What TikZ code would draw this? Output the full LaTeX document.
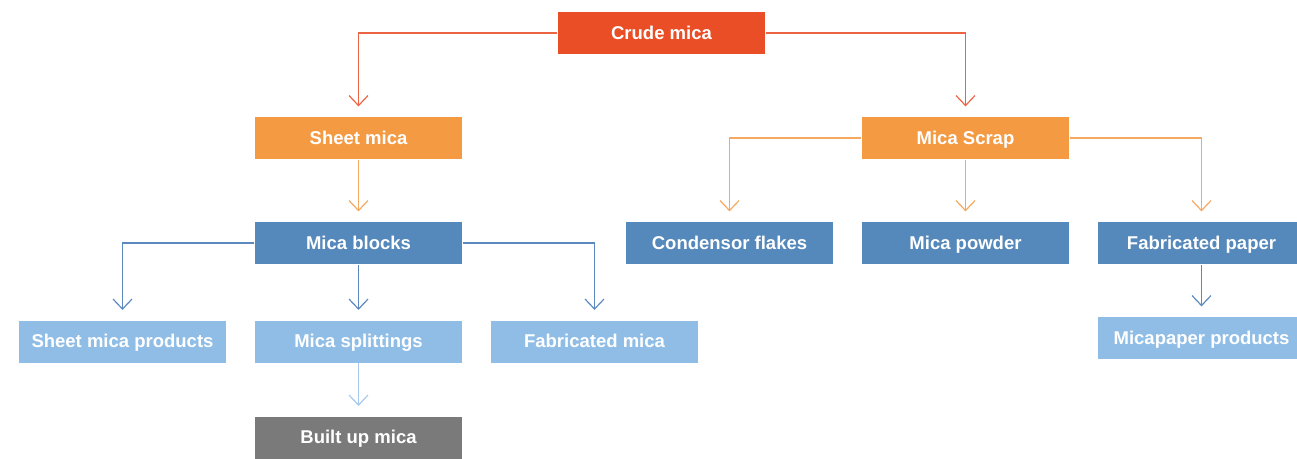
\documentclass[tikz,border=0pt]{standalone}
\usepackage{fontspec}
\setmainfont{Liberation Sans}
\usepackage{xcolor}
\usetikzlibrary{positioning}
\usetikzlibrary{arrows.meta}

\definecolor{crudefill}{RGB}{233,78,38}
\definecolor{sheetfill}{RGB}{243,154,67}
\definecolor{blockfill}{RGB}{85,136,187}
\definecolor{lightfill}{RGB}{143,189,230}
\definecolor{grayfill}{RGB}{122,122,122}
\definecolor{crudeline}{RGB}{236,100,68}
\definecolor{sheetline}{RGB}{245,168,96}
\definecolor{blockline}{RGB}{92,138,190}
\definecolor{lightline}{RGB}{165,200,236}

\begin{document}
\begin{tikzpicture}[x=1pt, y=-1pt, node distance = 105pt and 236pt, on grid, line width=1.2pt, >={Straight Barb[length=10pt,width=19pt]}, box/.style ={rectangle, minimum width=207pt, minimum height=42pt, inner sep=0pt, text height=13pt, text depth=1pt, text = white, font=\bfseries\fontsize{18.5}{20}\selectfont}, link/.style={->, shorten >=10pt}]
	\useasboundingbox (0,0) rectangle (1297,458);
	\node[box, fill = crudefill] (crude) at (661.5,33) {Crude mica};
	\node[box, fill = sheetfill] (sheet) [below left = 105pt and 303pt of crude] {Sheet mica};
	\node[box, fill = sheetfill] (scrap) [below right = 105pt and 304pt of crude] {Mica Scrap};
	\node[box, fill = blockfill] (blocks) [below = of sheet] {Mica blocks};
	\node[box, fill = lightfill] (splits) [below = 98.5pt of blocks] {Mica splittings};
	\node[box, fill = lightfill] (products) [left = of splits] {Sheet mica products};
	\node[box, fill = lightfill] (fabmica) [right = of splits] {Fabricated mica};
	\node[box, fill = grayfill] (builtup) [below = 96pt of splits] {Built up mica};
	\node[box, fill = blockfill] (powder) [below = of scrap] {Mica powder};
	\node[box, fill = blockfill] (flakes) [left = of powder] {Condensor flakes};
	\node[box, fill = blockfill] (fabpaper) [right = of powder] {Fabricated paper};
	\node[box, fill = lightfill] (micapaper) [below = 95pt of fabpaper] {Micapaper products};
	% crude mica
	\draw[link, crudeline] (crude) -| (sheet);
	\draw[link, crudeline] (crude) -| (scrap);
	% sheet mica branch
	\path[link, sheetline] (sheet) edge (blocks);
	\draw[link, blockline] (blocks) -| (products);
	\draw[link, blockline] (blocks) -| (fabmica);
	\path[link, blockline] (blocks) edge (splits);
	\path[link, lightline] (splits) edge (builtup);
	% scrap branch
	\draw[link, sheetline] (scrap) -| (flakes);
	\draw[link, sheetline] (scrap) -| (fabpaper);
	\path[link, sheetline] (scrap) edge (powder);
	\path[link, blockline] (fabpaper) edge (micapaper);
\end{tikzpicture}
\end{document}
